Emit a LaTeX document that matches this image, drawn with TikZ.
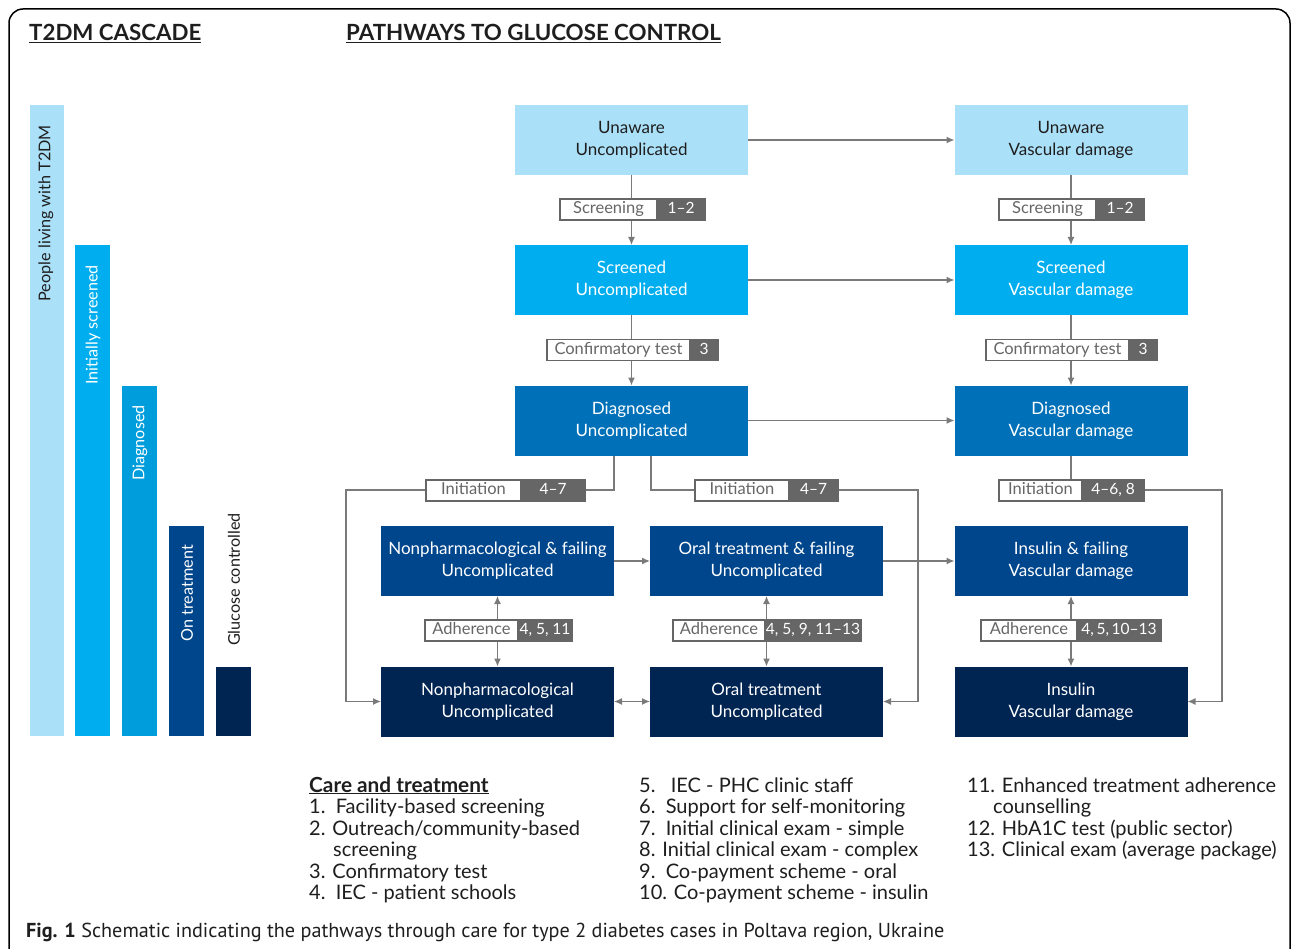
\documentclass[tikz,border=0pt]{standalone}
\usepackage{fontspec}
\setmainfont{Lato}
\newfontfamily\capfont{PT Sans}
\usetikzlibrary{arrows.meta}
\definecolor{cA}{HTML}{ABE0F9}
\definecolor{cB}{HTML}{00AEEF}
\definecolor{cC}{HTML}{0071B8}
\definecolor{cD}{HTML}{00468C}
\definecolor{cE}{HTML}{002553}
\definecolor{barC}{HTML}{009DDC}
\definecolor{lblgray}{HTML}{666666}
\definecolor{conngray}{HTML}{7A7A7A}
\definecolor{txtdark}{HTML}{1E1E1E}
\newcommand\plabel[7]{%
  \node[lblw, minimum width=#4-#3, anchor=west] (#1w) at (#3,#2) {#6};
  \node[lblg, minimum width=#5-#4, anchor=west] (#1g) at (#4,#2) {#7};
  \draw[lblframe] (#1w.north west) rectangle (#1g.south east);}
\begin{document}
\begin{tikzpicture}[x=1pt,y=-1pt,
  stbox/.style={minimum width=233, minimum height=70, inner sep=0, outer sep=0, align=center,
    text=white, font=\fontsize{17}{22}\selectfont},
  conn/.style={draw=conngray, line width=1.3},
  arr/.style={conn, -{Latex[length=8,width=7]}},
  darr/.style={conn, {Latex[length=8,width=7]}-{Latex[length=8,width=7]}},
  lblw/.style={draw=lblgray, fill=white, text=lblgray, line width=1.4, inner sep=0, outer sep=0,
    minimum height=21, text height=11.5, text depth=3.5, font=\fontsize{16.5}{18}\selectfont},
  lblg/.style={lblw, fill=lblgray, text=white, font=\fontsize{15.5}{18}\selectfont},
  lblframe/.style={draw=lblgray, line width=1.6},
  bartxt/.style={rotate=90, anchor=east, inner sep=0, font=\fontsize{16.2}{18}\selectfont},
  leg/.style={anchor=base west, inner sep=0, text=txtdark, font=\fontsize{20}{22}\selectfont}
]
\useasboundingbox (0,0) rectangle (1292,949);
\fill[white] (0,0) rectangle (1292,949);
\draw[line width=1.5, rounded corners=14] (9,9) rectangle (1290,980);

% titles
\node[anchor=base west, inner sep=0, font=\fontsize{22.3}{24}\selectfont\bfseries, text=txtdark] (t1) at (29,41) {\underline{T2DM CASCADE}};
\node[anchor=base west, inner sep=0, font=\fontsize{22.3}{24}\selectfont\bfseries, text=txtdark] (t2) at (346,41) {\underline{PATHWAYS TO GLUCOSE CONTROL}};

% cascade bars
\fill[cA] (30,105) rectangle (64,736);
\fill[cB] (75,245) rectangle (110,736);
\fill[barC] (122,386) rectangle (157,736);
\fill[cD] (169,526) rectangle (204,736);
\fill[cE] (216,667) rectangle (251,736);
\node[bartxt, text=txtdark] (b1) at (46,125) {People living with T2DM};
\node[bartxt, text=white] (b2) at (93,265) {Initially screened};
\node[bartxt, text=white] (b3) at (140,405) {Diagnosed};
\node[bartxt, text=white] (b4) at (187,545) {On treatment};
\node[bartxt, text=txtdark] (b5) at (234,513) {Glucose controlled};

% boxes
\node[stbox, fill=cA, text=txtdark] (uu) at (631.5,140) {Unaware\\Uncomplicated};
\node[stbox, fill=cA, text=txtdark] (uv) at (1071,140) {Unaware\\Vascular damage};
\node[stbox, fill=cB] (su) at (631.5,280) {Screened\\Uncomplicated};
\node[stbox, fill=cB] (sv) at (1071,280) {Screened\\Vascular damage};
\node[stbox, fill=cC] (du) at (631.5,420.5) {Diagnosed\\Uncomplicated};
\node[stbox, fill=cC] (dv) at (1071,420.5) {Diagnosed\\Vascular damage};
\node[stbox, fill=cD] (nf) at (497.5,561) {Nonpharmacological \& failing\\Uncomplicated};
\node[stbox, fill=cD] (of) at (766.5,561) {Oral treatment \& failing\\Uncomplicated};
\node[stbox, fill=cD] (if) at (1071,561) {Insulin \& failing\\Vascular damage};
\node[stbox, fill=cE] (nu) at (497.5,701.5) {Nonpharmacological\\Uncomplicated};
\node[stbox, fill=cE] (ou) at (766.5,701.5) {Oral treatment\\Uncomplicated};
\node[stbox, fill=cE] (iv) at (1071,701.5) {Insulin\\Vascular damage};

% connectors
\draw[arr] (uu.east) -- (uv.west);
\draw[arr] (su.east) -- (sv.west);
\draw[arr] (du.east) -- (dv.west);
\draw[arr] (uu.south) -- (su.north);
\draw[arr] (uv.south) -- (sv.north);
\draw[arr] (su.south) -- (du.north);
\draw[arr] (sv.south) -- (dv.north);
\draw[arr] (nf.east) -- (of.west);
\draw[arr] (of.east) -- (if.west);
\draw[darr] (nu.east) -- (ou.west);
\draw[darr] (nf.south) -- (nu.north);
\draw[darr] (of.south) -- (ou.north);
\draw[darr] (if.south) -- (iv.north);
\coordinate (k1) at (346,490);
\coordinate (k2) at (918,490);
\coordinate (k3) at (1222,490);
\draw[arr] ([xshift=-17.5]du.south) |- (k1) |- (nu.west);
\draw[arr] ([xshift=19.5]du.south) |- (k2) |- (ou.east);
\draw[arr] (dv.south) |- (k3) |- (iv.east);

% labels
\plabel{ls1}{209.5}{560}{657}{705}{Screening}{1--2}
\plabel{ls2}{209.5}{999}{1096}{1144}{Screening}{1--2}
\plabel{lc1}{350}{547}{690}{718}{Confirmatory test}{3}
\plabel{lc2}{350}{986}{1129}{1157}{Confirmatory test}{3}
\plabel{li1}{490.5}{426}{521}{585}{Initiation}{4--7}
\plabel{li2}{490.5}{695}{789}{838}{Initiation}{4--7}
\plabel{li3}{490.5}{999}{1082}{1144}{Initiation}{4--6, 8}
\plabel{la1}{630.5}{425}{518}{572}{Adherence}{4, 5, 11}
\plabel{la2}{630.5}{673}{765}{861}{Adherence}{4, 5, 9, 11--13}
\plabel{la3}{630.5}{981}{1077}{1161}{Adherence}{4,\,5,\,10--13}

% legend
\node[leg, font=\fontsize{20.8}{22}\selectfont\bfseries] (g0) at (309,792) {\underline{Care and treatment}};
\node[leg] (g1) at (309,813.5) {1.\ \ Facility-based screening};
\node[leg] (g2) at (309,835) {2. Outreach/community-based};
\node[leg] (g2b) at (333,856.5) {screening};
\node[leg] (g3) at (309,878) {3. Confirmatory test};
\node[leg] (g4) at (309,899.5) {4.\ \ IEC - patient schools};
\node[leg] (g5) at (639,792) {5.\ \ \ IEC - PHC clinic staff};
\node[leg] (g6) at (639,813.5) {6.\ \ Support for self-monitoring};
\node[leg] (g7) at (639,835) {7.\ \ Initial clinical exam - simple};
\node[leg] (g8) at (639,856.5) {8. Initial clinical exam - complex};
\node[leg] (g9) at (639,878) {9.\ \ Co-payment scheme - oral};
\node[leg] (g10) at (639,899.5) {10. Co-payment scheme - insulin};
\node[leg] (g11) at (967,792) {11. Enhanced treatment adherence};
\node[leg] (g11b) at (993,813.5) {counselling};
\node[leg] (g12) at (967,835) {12. HbA1C test (public sector)};
\node[leg] (g13) at (967,856.5) {13. Clinical exam (average package)};

% caption
\node[anchor=base west, inner sep=0, text=txtdark, font=\capfont\fontsize{20.2}{22}\selectfont] (cap) at (26,937)
  {\textbf{Fig. 1} Schematic indicating the pathways through care for type 2 diabetes cases in Poltava region, Ukraine};
\end{tikzpicture}
\end{document}
